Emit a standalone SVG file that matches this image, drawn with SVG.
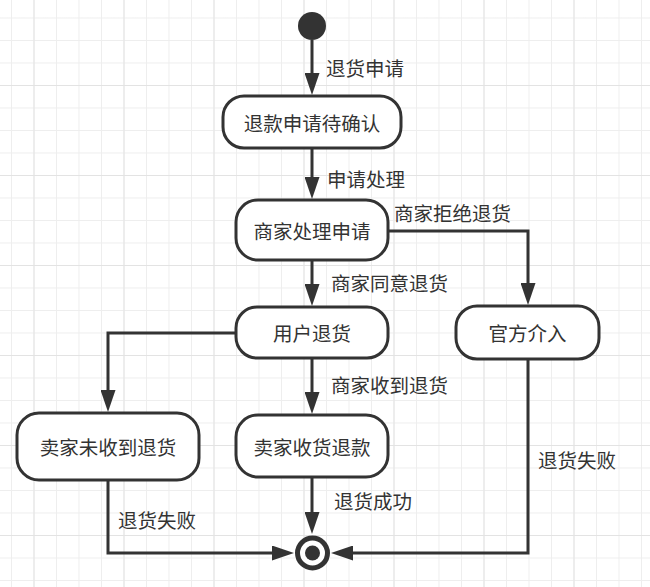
<svg xmlns="http://www.w3.org/2000/svg" width="650" height="587" viewBox="0 0 650 587">
<defs>
<pattern id="gmin" patternUnits="userSpaceOnUse" x="11" y="17.5" width="22.5" height="22.5">
<path d="M0.5 0V22.5M0 0.5H22.5" stroke="#eeeeee" stroke-width="1" fill="none"/>
</pattern>
<pattern id="gmaj" patternUnits="userSpaceOnUse" x="33.5" y="85" width="90" height="90">
<path d="M0.5 0V90M0 0.5H90" stroke="#e3e3e3" stroke-width="1" fill="none"/>
</pattern>
<marker id="arr" markerUnits="userSpaceOnUse" markerWidth="22" markerHeight="15" refX="12" refY="7.5" orient="auto">
<path d="M0,0 L22,7.5 L0,15 z" fill="#333"/>
</marker>
</defs>
<style>
.node rect{fill:#fff;stroke:#333;stroke-width:3}
.node text,.lbl{font-family:"Noto Sans CJK SC","Liberation Sans",sans-serif;font-size:19.5px;fill:#333;dominant-baseline:central}
.node text{text-anchor:middle}
.edge{fill:none;stroke:#333;stroke-width:3;marker-end:url(#arr)}
</style>
<rect width="650" height="587" fill="#fff"/>
<rect width="650" height="587" fill="url(#gmin)"/>
<rect width="650" height="587" fill="url(#gmaj)"/>

<g id="connectors">
<path class="edge" d="M312 40V85"/>
<path class="edge" d="M312 148V189"/>
<path class="edge" d="M388 231H528V295"/>
<path class="edge" d="M312 260V296"/>
<path class="edge" d="M236 333H108V402"/>
<path class="edge" d="M312 358V404"/>
<path class="edge" d="M312 477V524"/>
<path class="edge" d="M108 480V553H284"/>
<path class="edge" d="M528 359V553H341"/>
</g>

<g id="labels">
<text class="lbl" x="326" y="67">退货申请</text>
<text class="lbl" x="327" y="178">申请处理</text>
<text class="lbl" x="394" y="212">商家拒绝退货</text>
<text class="lbl" x="331" y="282">商家同意退货</text>
<text class="lbl" x="331" y="384">商家收到退货</text>
<text class="lbl" x="334" y="500">退货成功</text>
<text class="lbl" x="118" y="519">退货失败</text>
<text class="lbl" x="538" y="459">退货失败</text>
</g>

<g id="start"><circle cx="312" cy="26" r="14" fill="#333"/></g>

<g id="n1" class="node"><rect x="223" y="96" width="178" height="52" rx="21"/><text x="312" y="122">退款申请待确认</text></g>
<g id="n2" class="node"><rect x="236" y="200" width="152" height="60" rx="22"/><text x="312" y="230">商家处理申请</text></g>
<g id="n3" class="node"><rect x="236" y="307" width="152" height="51" rx="21"/><text x="312" y="332.5">用户退货</text></g>
<g id="n4" class="node"><rect x="456" y="306" width="143" height="53" rx="21"/><text x="527.5" y="332.5">官方介入</text></g>
<g id="n5" class="node"><rect x="17" y="413" width="182" height="67" rx="22"/><text x="108" y="446.5">卖家未收到退货</text></g>
<g id="n6" class="node"><rect x="236" y="415" width="152" height="62" rx="22"/><text x="312" y="446">卖家收货退款</text></g>

<g id="end"><circle cx="312.5" cy="553" r="15" fill="#fff" stroke="#333" stroke-width="5"/><circle cx="312.5" cy="553" r="7.5" fill="#333"/></g>
</svg>
